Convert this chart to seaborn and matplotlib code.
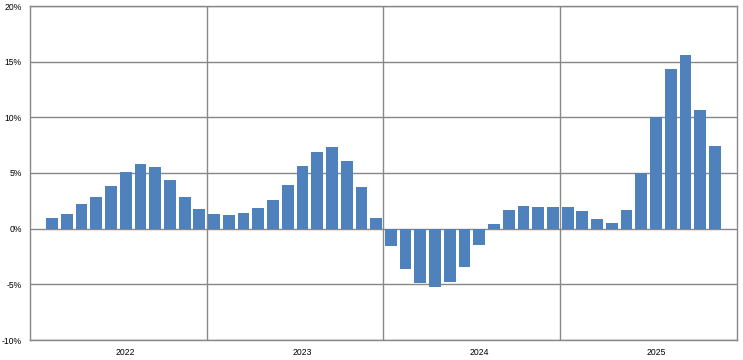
import numpy as np
import pandas as pd
import matplotlib
matplotlib.use("Agg")
import matplotlib.pyplot as plt
import seaborn as sns

# monthly slots on the axis, Jan 2022 .. Dec 2025
years = [2022, 2023, 2024, 2025]
all_months = [f"{y}-{m:02d}" for y in years for m in range(1, 13)]

# bars run Feb 2022 .. Nov 2025
months = all_months[1:47]
values = [
    1.0, 1.35, 2.25, 2.8, 3.85, 5.1, 5.85, 5.55, 4.4, 2.8, 1.75,            # 2022
    1.3, 1.2, 1.45, 1.9, 2.6, 3.95, 5.65, 6.9, 7.3, 6.1, 3.75, 1.0,        # 2023
    -1.6, -3.65, -4.9, -5.25, -4.8, -3.45, -1.45, 0.45, 1.7, 2.05, 1.95, 1.95,  # 2024
    1.95, 1.6, 0.9, 0.55, 1.7, 5.0, 10.0, 14.3, 15.6, 10.7, 7.45,          # 2025
]
year_labels = ["2022", "2023", "2024", "2025"]
y_ticks = [-10, -5, 0, 5, 10, 15, 20]

df = pd.DataFrame({"month": months, "value": values})

sns.set_style("white")
plt.rcParams["font.family"] = ["Liberation Sans", "DejaVu Sans"]

grey = "#878787"
fig = plt.figure(figsize=(7.43, 3.60), dpi=100)
ax = fig.add_axes([30 / 743, 1 - 340 / 360, 707 / 743, 334 / 360])

sns.barplot(data=df, x="month", y="value", order=all_months,
            color="#4F81BD", saturation=1, width=0.8, linewidth=0,
            edgecolor="none", ax=ax, zorder=3)

ax.set_xlim(-0.5, len(all_months) - 0.5)
ax.set_ylim(-10, 20)
ax.set_yticks(y_ticks)
ax.set_yticklabels([f"{t}%" for t in y_ticks], fontsize=6.2)

# year labels sit under the 7th month of each year
ax.set_xticks([12 * i + 6 for i in range(len(years))])
ax.set_xticklabels(year_labels, fontsize=6.2)
ax.tick_params(axis="x", length=0, pad=6, labelcolor="black")
ax.tick_params(axis="y", length=4, color=grey, width=1, pad=2, labelcolor="black")

for t in y_ticks:
    ax.axhline(t, color=grey, lw=1, zorder=1)
for i in range(1, len(years)):
    ax.axvline(12 * i - 0.5, color=grey, lw=1, zorder=1)

for s in ax.spines.values():
    s.set_color(grey)
    s.set_linewidth(1)
    s.set_visible(True)

ax.set_xlabel("")
ax.set_ylabel("")
fig.savefig("out.png", dpi=100)
